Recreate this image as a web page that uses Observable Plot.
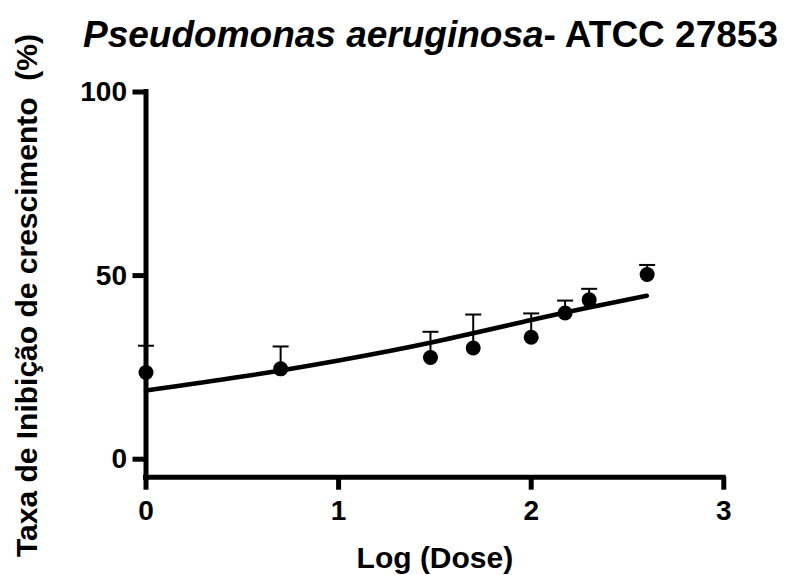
<!DOCTYPE html>
<html>
<head>
<meta charset="utf-8">
<script src="https://cdn.jsdelivr.net/npm/d3@7"></script>
<script src="https://cdn.jsdelivr.net/npm/@observablehq/plot@0.6"></script>
<style>
  html, body { margin: 0; padding: 0; background: #fff; }
  #wrap { position: relative; width: 792px; height: 575px; }
  #title { position: absolute; left: 83px; top: 15.5px; font-family: "Liberation Sans", Arial, sans-serif; font-weight: bold; font-size: 37px; line-height: 37px; white-space: nowrap; color: #000; }
  #title i { font-style: italic; }
</style>
</head>
<body>
<div id="wrap">
  <div id="chart"></div>
  <div id="title"><i>Pseudomonas aeruginosa</i>- ATCC 27853</div>
</div>
<script>
// Observed data (log dose, mean inhibition %, upper error)
const logDose = [0, 0.699, 1.477, 1.699, 2.0, 2.176, 2.301, 2.602];
const inhibition = [23.6, 24.6, 27.7, 30.3, 33.2, 39.8, 43.4, 50.3];
const errUpper = [7.3, 6.1, 7.0, 9.1, 6.5, 3.4, 3.0, 2.6];

// Fitted curve
const curveX = [0, 0.5, 1, 1.5, 2, 2.3, 2.6];
const curveY = [18.7, 22.5, 26.9, 32.0, 37.9, 41.3, 44.5];

const xTicks = [0, 1, 2, 3];
const yTicks = [0, 50, 100];
const xDomain = [0, 3];
const yDomain = [-4.9, 100];

const xLabel = "Log (Dose)";
const yLabel = "Taxa de Inibição de crescimento\u00a0 (%)";

const points = logDose.map((x, i) => ({x, y: inhibition[i], top: inhibition[i] + errUpper[i]}));
const curve = curveX.map((x, i) => ({x, y: curveY[i]}));

const capSymbol = {
  draw(ctx, size) {
    const r = Math.sqrt(size / Math.PI);
    ctx.moveTo(-r, 0);
    ctx.lineTo(r, 0);
  }
};

const chart = Plot.plot({
  width: 792,
  height: 575,
  marginLeft: 145.5,
  marginRight: 68.7,
  marginTop: 91.5,
  marginBottom: 98.3,
  style: {fontFamily: "'Liberation Sans', Arial, sans-serif", fontSize: "28px", fontWeight: "bold", color: "#000", background: "#fff", overflow: "visible"},
  x: {domain: xDomain},
  y: {domain: yDomain},
  marks: [
    Plot.axisX({ticks: xTicks, tickSize: 13, tickPadding: 10, strokeWidth: 5, label: null, tickFormat: d3.format("d")}),
    Plot.axisY({ticks: yTicks, tickSize: 13, tickPadding: 6, strokeWidth: 5, label: null, tickFormat: d3.format("d")}),
    Plot.ruleX([xDomain[0]], {strokeWidth: 5, strokeLinecap: "square"}),
    Plot.ruleY([yDomain[0]], {strokeWidth: 5, strokeLinecap: "square"}),
    Plot.line(curve, {x: "x", y: "y", curve: "natural", strokeWidth: 4.5}),
    Plot.ruleX(points, {x: "x", y1: "y", y2: "top", strokeWidth: 2}),
    Plot.dot(points, {x: "x", y: "top", r: 8, symbol: capSymbol, stroke: "black", fill: "none", strokeWidth: 2}),
    Plot.dot(points, {x: "x", y: "y", r: 7.5, fill: "black", stroke: "none"}),
    Plot.text([xLabel], {frameAnchor: "bottom", lineAnchor: "top", textAnchor: "middle", dy: 69, text: d => d, fontSize: 30, fontWeight: "bold"}),
    Plot.text([yLabel], {frameAnchor: "left", lineAnchor: "top", textAnchor: "middle", rotate: -90, dx: -130.5, dy: 11, text: d => d, fontSize: 30, fontWeight: "bold"})
  ]
});
document.getElementById("chart").appendChild(chart);
</script>
</body>
</html>
